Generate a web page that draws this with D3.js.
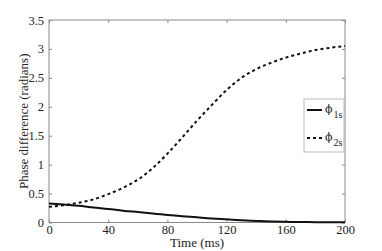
<!DOCTYPE html>
<html>
<head>
<meta charset="utf-8">
<script src="https://cdn.jsdelivr.net/npm/d3@7"></script>
<style>
  body { margin: 0; background: #fff; }
</style>
</head>
<body>
<div id="chart"></div>
<script>

var timeMs = [0, 10, 20, 30, 40, 50, 60, 70, 80, 90, 100, 110, 120, 130, 140, 150, 160, 170, 180, 190, 200];
var phi1s = [0.33, 0.31, 0.29, 0.26, 0.235, 0.205, 0.18, 0.155, 0.13, 0.11, 0.09, 0.07, 0.055, 0.04, 0.028, 0.018, 0.012, 0.008, 0.006, 0.004, 0.003];
var phi2s = [0.27, 0.30, 0.34, 0.40, 0.49, 0.60, 0.74, 0.94, 1.19, 1.47, 1.76, 2.03, 2.29, 2.50, 2.65, 2.76, 2.85, 2.92, 2.98, 3.02, 3.05];
var xTicks = [0, 40, 80, 120, 160, 200];
var yTicks = [0, 0.5, 1, 1.5, 2, 2.5, 3, 3.5];
var seriesNames = ["1s", "2s"];

var width = 382, height = 251;
var plotLeft = 49, plotRight = 345, plotTop = 20, plotBottom = 222.5;
var serif = "'Liberation Serif', 'Times New Roman', 'DejaVu Serif', serif";

var svg = d3.select("#chart")
    .append("svg")
    .attr("width", width)
    .attr("height", height)
    .style("font-family", serif);

var x = d3.scaleLinear().domain([0, 200]).range([plotLeft, plotRight]);
var y = d3.scaleLinear().domain([0, 3.5]).range([plotBottom, plotTop]);

var axisColor = "#8a8a8a";

// box
svg.append("rect")
    .attr("x", plotLeft)
    .attr("y", plotTop)
    .attr("width", plotRight - plotLeft)
    .attr("height", plotBottom - plotTop)
    .attr("fill", "none")
    .attr("stroke", axisColor)
    .attr("stroke-width", 1);

// inward ticks on all sides
var tickLen = 3;
var xAxisB = d3.axisBottom(x).tickValues(xTicks).tickSizeInner(-tickLen).tickSizeOuter(0).tickPadding(3).tickFormat(d3.format("d"));
var xAxisT = d3.axisTop(x).tickValues(xTicks).tickSizeInner(-tickLen).tickSizeOuter(0).tickFormat("");
var yAxisL = d3.axisLeft(y).tickValues(yTicks).tickSizeInner(-tickLen).tickSizeOuter(0).tickPadding(5).tickFormat(function(d){ return d; });
var yAxisR = d3.axisRight(y).tickValues(yTicks).tickSizeInner(-tickLen).tickSizeOuter(0).tickFormat("");

function styleAxis(g) {
    g.attr("font-family", null).attr("font-size", null);
    g.select(".domain").remove();
    g.selectAll(".tick line").attr("stroke", axisColor);
    g.selectAll(".tick text")
        .attr("fill", "#222")
        .style("font-family", serif)
        .style("font-size", "12.5px");
}

svg.append("g").attr("transform", "translate(0," + plotBottom + ")").call(xAxisB).call(styleAxis);
svg.append("g").attr("transform", "translate(0," + plotTop + ")").call(xAxisT).call(styleAxis);
svg.append("g").attr("transform", "translate(" + plotLeft + ",0)").call(yAxisL).call(styleAxis);
svg.append("g").attr("transform", "translate(" + plotRight + ",0)").call(yAxisR).call(styleAxis);

// lines
var data1 = timeMs.map(function(t, i){ return [t, phi1s[i]]; });
var data2 = timeMs.map(function(t, i){ return [t, phi2s[i]]; });

var line = d3.line()
    .x(function(d){ return x(d[0]); })
    .y(function(d){ return y(d[1]); })
    .curve(d3.curveMonotoneX);

svg.append("path")
    .attr("d", line(data1))
    .attr("fill", "none")
    .attr("stroke", "#111")
    .attr("stroke-width", 2);

svg.append("path")
    .attr("d", line(data2))
    .attr("fill", "none")
    .attr("stroke", "#111")
    .attr("stroke-width", 2)
    .attr("stroke-dasharray", "3,3");

// axis labels
svg.append("text")
    .attr("x", (plotLeft + plotRight) / 2)
    .attr("y", 247)
    .attr("text-anchor", "middle")
    .style("font-family", serif)
    .style("font-size", "13px")
    .attr("fill", "#222")
    .text("Time (ms)");

svg.append("text")
    .attr("transform", "translate(28," + ((plotTop + plotBottom) / 2) + ") rotate(-90)")
    .attr("text-anchor", "middle")
    .style("font-family", serif)
    .style("font-size", "13px")
    .attr("fill", "#222")
    .text("Phase difference (radians)");

// legend
var lg = svg.append("g").attr("transform", "translate(304,99)");
lg.append("rect")
    .attr("width", 40)
    .attr("height", 53)
    .attr("fill", "#fff")
    .attr("stroke", "#bbb")
    .attr("stroke-width", 1);

var rows = lg.selectAll("g.row").data(seriesNames).enter().append("g")
    .attr("class", "row")
    .attr("transform", function(d, i){ return "translate(0," + (11 + i * 28) + ")"; });

rows.append("line")
    .attr("x1", 3)
    .attr("x2", 18)
    .attr("y1", 0)
    .attr("y2", 0)
    .attr("stroke", "#111")
    .attr("stroke-width", 2)
    .attr("stroke-dasharray", function(d, i){ return i == 1 ? "3,3" : null; });

var lt = rows.append("text")
    .attr("x", 21)
    .attr("y", 3)
    .style("font-family", serif)
    .style("font-size", "12px")
    .attr("fill", "#222");
lt.append("tspan")
    .style("font-family", "'DejaVu Serif', serif")
    .style("font-size", "11px")
    .text("\u03D5");
lt.append("tspan")
    .attr("dx", 1)
    .attr("dy", 5)
    .style("font-size", "10px")
    .text(function(d){ return d; });

</script>
</body>
</html>
